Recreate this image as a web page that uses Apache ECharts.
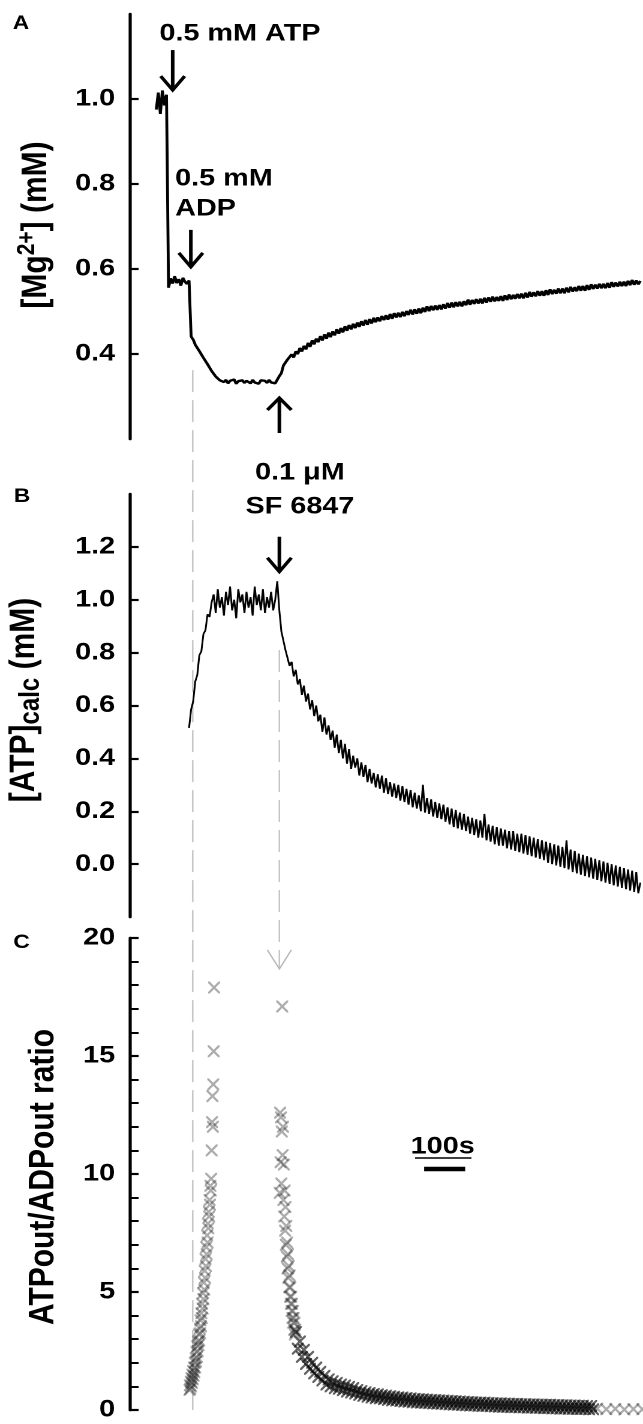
<!DOCTYPE html>
<html><head><meta charset="utf-8">
<script src="https://cdn.jsdelivr.net/npm/echarts@6/dist/echarts.min.js"></script>
<style>
html,body{margin:0;padding:0;background:#fff;overflow:hidden}
#wrap{width:643px;height:1424px;overflow:hidden;background:#fff}
#chart{width:536px;height:1424px;transform:scaleX(1.19963);transform-origin:0 0}
</style></head><body><div id="wrap"><div id="chart"></div></div>
<script>
// ---------- DATA ----------
// Panel A: [Mg2+] (mM), sampled every mgDt seconds from mgT0
const mgT0 = 65, mgDt = 5;
const mgValues = [
0.975,1.015,0.965,1.02,0.985,1.01,
0.556,0.578,0.566,0.583,0.567,0.576,0.561,0.579,0.57,0.565,0.573,
0.441,0.434,0.422,0.419,0.407,0.404,0.391,0.389,0.376,0.372,0.36,0.358,0.347,0.346,0.338,0.34,0.334,
0.339,0.331,0.337,0.334,0.34,0.33,0.336,0.333,0.338,0.332,0.337,0.335,0.331,0.339,0.333,0.336,0.33,0.338,0.334,0.337,0.332,0.339,0.333,0.336,0.331,
0.327,
0.348,0.355,0.373,0.372,0.387,0.384,0.399,0.392,0.406,0.4,0.414,0.406,0.419,0.411,0.426,0.417,0.432,0.423,0.436,0.428,
0.442,0.432,0.446,0.436,0.45,0.44,0.453,0.444,0.458,0.448,0.461,0.451,0.465,0.455,0.468,0.458,0.471,0.461,0.474,0.464,
0.477,0.467,0.48,0.469,0.482,0.472,0.485,0.475,
0.486,0.477,0.489,0.48,0.491,0.481,0.494,0.483,0.496,0.486,
0.497,0.487,0.499,0.489,0.501,0.492,0.504,0.493,0.505,0.495,
0.507,0.496,0.509,0.499,0.512,0.501,0.513,0.503,0.514,0.504,
0.515,0.505,0.517,0.507,0.52,0.509,0.521,0.51,0.522,0.512,
0.523,0.512,0.524,0.515,0.528,0.516,0.527,0.518,0.529,0.519,
0.53,0.519,0.532,0.521,0.533,0.523,0.535,0.524,0.534,0.525,
0.536,0.525,0.538,0.527,0.54,0.529,0.539,0.53,0.541,0.531,
0.542,0.531,0.544,0.533,0.546,0.535,0.545,0.536,0.548,0.537,
0.548,0.537,0.55,0.539,0.552,0.541,0.551,0.542,0.554,0.543,
0.554,0.543,0.556,0.545,0.558,0.547,0.557,0.548,0.56,0.549,
0.56,0.549,0.562,0.551,0.564,0.553,0.563,0.554,0.565,0.555,
0.565,0.555,0.567,0.556,0.569,0.558,0.568,0.559,0.57,0.56,
0.57,0.56,0.572,0.562,0.574,0.563,0.573,0.564,0.572
];
const mgTicks = [0.4, 0.6, 0.8, 1.0];

// Panel B: [ATP]calc (mM), sampled every atpDt seconds from atpT0
const atpT0 = 145, atpDt = 5;
const atpValues = [
0.515,0.585,0.615,0.69,0.715,0.79,0.805,0.87,0.885,0.945,0.935,0.99,
1.02,0.95,1.04,0.97,1.01,0.94,1.03,0.98,1.05,0.96,1.0,0.93,1.04,0.99,1.02,0.95,1.03,0.97,1.01,0.94,1.05,0.98,1.02,0.96,1.04,0.95,1.01,0.97,1.03,0.96,1.0,
1.07,
0.96,0.88,0.875,0.81,0.815,0.75,0.765,0.71,
0.735,0.68,0.7,0.64,0.675,0.615,0.645,0.585,0.62,0.56,
0.6,0.54,0.565,0.5,0.555,0.49,0.525,0.47,0.505,0.44,
0.49,0.42,0.47,0.4,0.455,0.38,0.435,0.36,0.41,0.365,
0.4,0.335,0.385,0.33,0.375,0.31,0.36,0.305,0.345,0.29,
0.34,0.285,0.335,0.27,0.325,0.265,0.31,0.255,0.305,0.25,
0.3,0.24,0.295,0.235,0.285,0.225,0.28,0.215,0.27,0.21,
0.26,0.2,0.3,0.195,0.25,0.19,0.245,0.18,0.235,0.175,
0.23,0.17,0.225,0.16,0.215,0.15,0.21,0.14,0.205,0.135,
0.195,0.13,0.19,0.125,0.18,0.115,0.175,0.11,0.17,0.1,
0.165,0.1,0.19,0.09,0.15,0.085,0.145,0.075,0.14,0.07,
0.135,0.07,0.13,0.06,0.125,0.055,0.125,0.05,0.115,0.045,
0.115,0.04,0.11,0.035,0.105,0.03,0.1,0.025,0.095,0.02,
0.09,0.015,0.085,0.005,0.08,0,0.075,-0.005,0.07,-0.01,
0.065,-0.015,0.09,-0.02,0.055,-0.03,0.05,-0.035,0.04,-0.04,
0.035,-0.045,0.03,-0.05,0.025,-0.055,0.02,-0.06,0.015,-0.065,
0.01,-0.07,0.005,-0.075,0,-0.08,-0.005,-0.085,-0.01,-0.09,
-0.015,-0.095,-0.02,-0.1,-0.025,-0.105,-0.03,-0.11,-0.07
];
const atpTicks = [0, 0.2, 0.4, 0.6, 0.8, 1.0, 1.2];

// Panel C: ATPout/ADPout ratio, in segments (start time, step, values)
const ratioLeftT0 = 146, ratioLeftDt = 1;
const ratioLeft = [
0.85,1.05,0.9,1.2,1.0,1.35,1.15,1.5,1.3,1.65,1.45,1.8,1.6,2.0,1.8,2.2,2.05,2.45,2.25,2.7,
2.5,2.9,2.75,3.2,2.95,3.45,3.25,3.8,3.55,4.1,3.9,4.5,4.3,4.95,4.7,5.4,5.1,5.9,5.6,6.4,
6.1,6.9,6.6,7.4,7.1,7.9,7.7,8.4,8.2,8.9,8.7,9.5,9.3,9.8,11.0,12.2,13.3,12.0,13.8,15.2,17.9
];
const ratioPeakT0 = 366, ratioPeakDt = 1;
const ratioPeak = [
9.2,12.6,10.5,12.4,9.6,11.8,17.1,10.8,12.0,8.9,10.4,8.2,9.3,7.6,8.6,7.0,7.8,6.5,7.1,6.0,
6.6,5.6,6.1,5.2,5.7,4.8,5.2,4.5,4.8,4.2,4.5,3.9,4.2,3.7,3.9,3.4,3.7,3.2,3.4
];
const ratioDecayT0 = 405, ratioDecayDt = 5;
const ratioDecay = [
3.3,2.6,2.9,2.25,2.55,1.95,2.25,1.75,2.0,1.55,
1.8,1.4,1.62,1.25,1.45,1.08,1.3,1.0,1.22,0.92,
1.15,0.9,1.08,0.84,1.04,0.78,0.98,0.74,0.93,0.7,
0.85,0.64,0.8,0.6,0.75,0.56,0.72,0.53,0.68,0.5,
0.66,0.49,0.63,0.46,0.61,0.43,0.58,0.41,0.56,0.4,
0.54,0.38,0.53,0.36,0.51,0.35,0.49,0.33,0.47,0.32,
0.46,0.31,0.45,0.3,0.44,0.29,0.43,0.28,0.42,0.27,
0.41,0.26,0.4,0.25,0.39,0.24,0.38,0.23,0.37,0.22,
0.36,0.21,0.35,0.2,0.34,0.19,0.33,0.19,0.32,0.18,
0.32,0.17,0.31,0.17,0.3,0.16,0.29,0.15,0.28,0.14,
0.28,0.13,0.27,0.13,0.27,0.12,0.26,0.12,0.26,0.11,
0.25,0.11,0.25,0.1,0.24,0.1,0.24,0.09,0.23,0.09,
0.23,0.08,0.22,0.08,0.22,0.07,0.21,0.07,0.21,0.06,
0.2,0.06,0.2,0.05,0.19,0.05,0.19,0.04,0.18,0.04,
0.18,0.04,0.17,0.03,0.17,0.03
];
const ratioTailT0 = 1140, ratioTailDt = 22;
const ratioTail = [0.06, 0.03, 0.05, 0.02, 0.04, 0.03];

// Scale bar (100 s) on panel C
const scaleBarT = [718, 818];
const scaleBarV = [10.21, 10.21];

// Event annotations: arrow times (s), tip values, panel index, direction
const arrowTimes  = [105.1, 149.3, 365.1, 365.1];
const arrowTips   = [1.021, 0.605, 0.2965, 1.106];
const arrowPanels = [0, 0, 0, 1];
const arrowDirs   = ['down', 'down', 'up', 'down'];
const arrowLens   = [40, 37, 35, 35];
// Guide (dashed) lines: time, start panel/value, end panel/value
const guideTimes  = [153.9, 365.1];
const guideFrom   = [[0, 0.362], [1, 0.81]];
const guideTo     = [[2, 0], [2, 18.69]];

// ---------- CHART ----------
const FONT = "'Liberation Sans', Arial, Helvetica, sans-serif";
const toPairs = (t0, dt, vals) => vals.map((v, i) => [t0 + i * dt, v]);
const sparseData = [].concat(
  toPairs(ratioLeftT0, ratioLeftDt, ratioLeft),
  toPairs(ratioPeakT0, ratioPeakDt, ratioPeak),
  toPairs(ratioTailT0, ratioTailDt, ratioTail)
);
const denseData = toPairs(ratioDecayT0, ratioDecayDt, ratioDecay);
const XSYM = 'path://M0,0L13,0L50,37L87,0L100,0L100,13L63,50L100,87L100,100L87,100L50,63L13,100L0,100L0,87L37,50L0,13Z';

const gridL = 108, gridW = 427.5;
const axisCommon = {
  axisLine: { show: true, lineStyle: { color: '#000', width: 2.6 } },
  axisTick: { show: true, inside: true, length: 7.5, lineStyle: { color: '#000', width: 2.2 } },
  axisLabel: { color: '#000', fontSize: 24, fontWeight: 'bold', fontFamily: FONT, margin: 12 },
  splitLine: { show: false }
};
const xCommon = { type: 'value', min: 0, max: 1250, show: false };

const option = {
  animation: false,
  backgroundColor: '#fff',
  grid: [
    { left: gridL, top: 14, width: gridW, height: 425 },
    { left: gridL, top: 494, width: gridW, height: 423 },
    { left: gridL, top: 938, width: gridW, height: 472 }
  ],
  xAxis: [
    Object.assign({ gridIndex: 0 }, xCommon),
    Object.assign({ gridIndex: 1 }, xCommon),
    Object.assign({ gridIndex: 2 }, xCommon)
  ],
  yAxis: [
    {
      type: 'value', gridIndex: 0, min: 0.2, max: 1.2, interval: 0.2,
      axisLine: axisCommon.axisLine, splitLine: axisCommon.splitLine,
      axisTick: Object.assign({ customValues: mgTicks }, axisCommon.axisTick),
      axisLabel: Object.assign({ customValues: mgTicks, formatter: v => v.toFixed(1) }, axisCommon.axisLabel)
    },
    {
      type: 'value', gridIndex: 1, min: -0.2, max: 1.4, interval: 0.2,
      axisLine: axisCommon.axisLine, splitLine: axisCommon.splitLine,
      axisTick: Object.assign({ customValues: atpTicks }, axisCommon.axisTick),
      axisLabel: Object.assign({ customValues: atpTicks, formatter: v => v.toFixed(1) }, axisCommon.axisLabel)
    },
    {
      type: 'value', gridIndex: 2, min: 0, max: 20, interval: 5,
      axisLine: axisCommon.axisLine, splitLine: axisCommon.splitLine,
      axisTick: axisCommon.axisTick,
      minorTick: { show: true, splitNumber: 5, length: 7.5, lineStyle: { color: '#000', width: 2 } },
      minorSplitLine: { show: false },
      axisLabel: axisCommon.axisLabel
    }
  ],
  series: [
    {
      name: 'Mg', type: 'line', xAxisIndex: 0, yAxisIndex: 0,
      data: toPairs(mgT0, mgDt, mgValues), showSymbol: false, symbol: 'none',
      lineStyle: { color: '#000', width: 2.4 }, z: 3
    },
    {
      name: 'ATPcalc', type: 'line', xAxisIndex: 1, yAxisIndex: 1,
      data: toPairs(atpT0, atpDt, atpValues), showSymbol: false, symbol: 'none',
      lineStyle: { color: '#000', width: 1.5 }, z: 3
    },
    {
      name: 'ratio', type: 'scatter', xAxisIndex: 2, yAxisIndex: 2,
      data: sparseData, symbol: XSYM, symbolSize: [10, 12],
      itemStyle: { color: 'rgba(35,35,35,0.47)' }, z: 3
    },
    {
      name: 'ratioDense', type: 'scatter', xAxisIndex: 2, yAxisIndex: 2,
      data: denseData, symbol: XSYM, symbolSize: [10, 12],
      itemStyle: { color: 'rgba(10,10,10,0.8)' }, z: 3
    },
    {
      name: 'scale', type: 'line', xAxisIndex: 2, yAxisIndex: 2,
      data: scaleBarT.map((t, i) => [t, scaleBarV[i]]), showSymbol: false, symbol: 'none',
      lineStyle: { color: '#000', width: 4.5 }, z: 4
    }
  ]
};

const chart = echarts.init(document.getElementById('chart'), null, { renderer: 'canvas', devicePixelRatio: 2 });
chart.setOption(option);

// ---------- ANNOTATIONS ----------
const P = (g, t, v) => chart.convertToPixel({ gridIndex: g }, [t, v]);
const els = [];
function txt(x, y, text, size, align, extra) {
  els.push(Object.assign({
    type: 'text', x: x, y: y, z: 20,
    style: { text: text, fontSize: size, fontWeight: 'bold', fontFamily: FONT, fill: '#000',
             align: align || 'center', verticalAlign: 'middle' }
  }, extra || {}));
}
function arrow(x, yTip, len, dir, hw, hh, color, lw) {
  const s = dir === 'down' ? 1 : -1;
  const yTail = yTip - s * len;
  els.push({ type: 'line', z: 20, shape: { x1: x, y1: yTail, x2: x, y2: yTip },
             style: { stroke: color, lineWidth: lw } });
  els.push({ type: 'polyline', z: 20, shape: { points: [[x - hw, yTip - s * hh], [x, yTip], [x + hw, yTip - s * hh]] },
             style: { stroke: color, lineWidth: lw, fill: null } });
}
arrowTimes.forEach((t, i) => {
  const p = P(arrowPanels[i], t, arrowTips[i]);
  arrow(p[0], p[1], arrowLens[i], arrowDirs[i], 10, i === 2 ? 12 : 14, '#000', 3);
});
guideTimes.forEach((t, i) => {
  const a = P(guideFrom[i][0], t, guideFrom[i][1]);
  const b = P(guideTo[i][0], t, guideTo[i][1]);
  els.push({ type: 'line', z: 1, shape: { x1: a[0], y1: a[1], x2: b[0], y2: b[1] },
             style: { stroke: '#c6c6c6', lineWidth: 1.3, lineDash: [22, 8] } });
  if (i === 1) {
    els.push({ type: 'polyline', z: 1, shape: { points: [[b[0] - 10, b[1] - 19], [b[0], b[1]], [b[0] + 10, b[1] - 19]] },
               style: { stroke: '#b8b8b8', lineWidth: 1.2, fill: null } });
  }
});

// Panel letters
txt(17.5, 24, 'A', 19);
txt(18.3, 497, 'B', 19);
txt(18, 943, 'C', 19);
// Event labels
txt(200, 34, '0.5 mM ATP', 24);
txt(146, 179, '0.5 mM', 24, 'left');
txt(146, 209, 'ADP', 24, 'left');
txt(250, 473, '0.1 \u03bcM', 24);
txt(250, 507, 'SF 6847', 24);
// scale bar label with underline
txt(369, 1147, '100s', 24);
els.push({ type: 'line', z: 20, shape: { x1: 346, y1: 1158, x2: 393, y2: 1158 }, style: { stroke: '#000', lineWidth: 1.6 } });

// Axis titles (rotated)
const titleStyle = { fontSize: 30, fontWeight: 'bold', fontFamily: FONT, fill: '#000', lineHeight: 36 };
els.push({
  type: 'text', x: 30, y: 225, rotation: Math.PI / 2, z: 20,
  style: { text: '{m|[Mg}{s|2+}{m|] (mM)}', align: 'center', verticalAlign: 'middle',
    rich: { m: titleStyle, s: { fontSize: 21, fontWeight: 'bold', fontFamily: FONT, fill: '#000', lineHeight: 16, verticalAlign: 'top' } } }
});
els.push({
  type: 'text', x: 20, y: 700, rotation: Math.PI / 2, z: 20,
  style: { text: '{m|[ATP]}{s|calc}{m| (mM)}', align: 'center', verticalAlign: 'middle',
    rich: { m: titleStyle, s: { fontSize: 24, fontWeight: 'bold', fontFamily: FONT, fill: '#000', lineHeight: 14, verticalAlign: 'bottom' } } }
});
els.push({
  type: 'text', x: 36, y: 1177, rotation: Math.PI / 2, z: 20,
  style: { text: 'ATPout/ADPout ratio', fontSize: 30, fontWeight: 'bold', fontFamily: FONT, fill: '#000',
           align: 'center', verticalAlign: 'middle' }
});

chart.setOption({ graphic: els });
</script></body></html>
